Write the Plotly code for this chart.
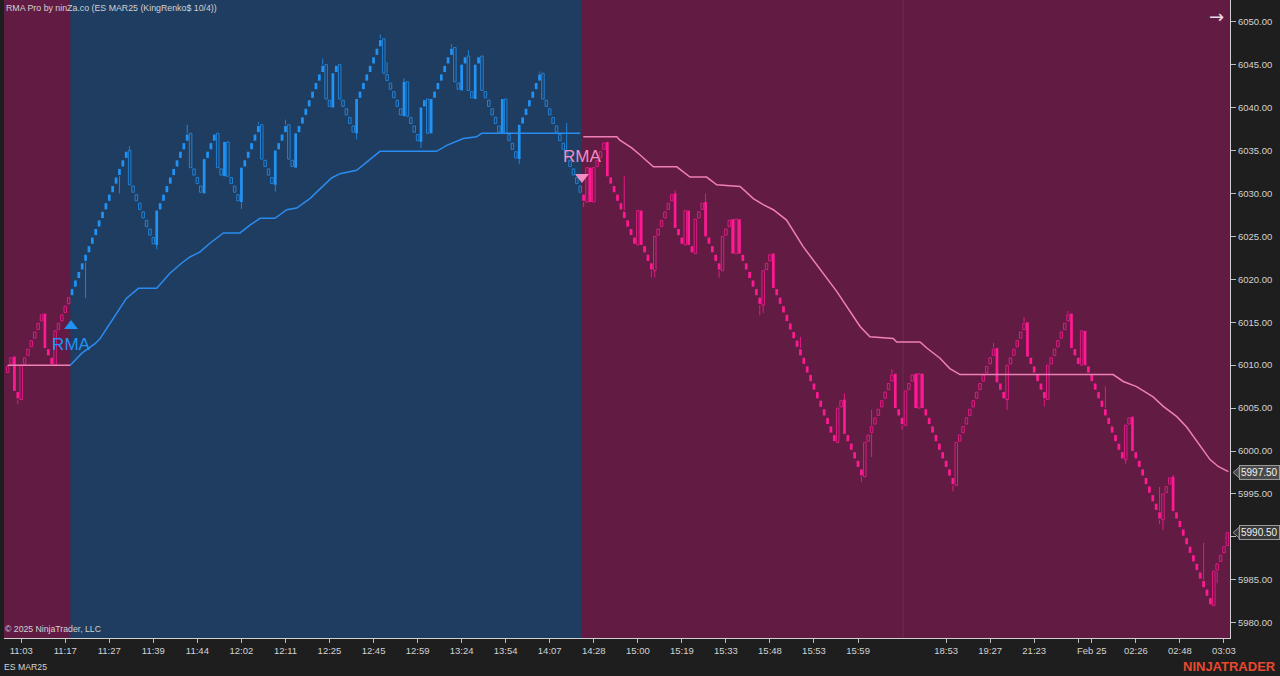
import plotly.graph_objects as go

# ---------------- data ----------------
closes = [
    6010, 6011, 6007, 6006, 6010, 6011, 6012, 6013, 6014, 6015,   # 0
    6016, 6012, 6011, 6010, 6014, 6015, 6016, 6017, 6018, 6019,   # 10
    6020, 6021, 6022, 6023, 6024, 6025, 6026, 6027, 6028, 6029,   # 20
    6030, 6031, 6032, 6033, 6034, 6035, 6031, 6030, 6029, 6028,   # 30
    6027, 6026, 6025, 6024, 6028, 6029, 6030, 6031, 6032, 6033,   # 40
    6034, 6035, 6036, 6037, 6033, 6032, 6031, 6030, 6034, 6035,   # 50
    6036, 6037, 6033, 6032, 6036, 6032, 6031, 6030, 6029, 6033,   # 60
    6034, 6035, 6036, 6037, 6038, 6034, 6033, 6032, 6031, 6035,   # 70
    6036, 6037, 6038, 6034, 6033, 6037, 6038, 6039, 6040, 6041,   # 80
    6042, 6043, 6044, 6045, 6041, 6040, 6044, 6045, 6041, 6040,   # 90
    6039, 6038, 6037, 6041, 6042, 6043, 6044, 6045, 6046, 6047,   # 100
    6048, 6044, 6043, 6042, 6041, 6040, 6039, 6043, 6039, 6038,   # 110
    6037, 6036, 6040, 6041, 6037, 6041, 6042, 6043, 6044, 6045,   # 120
    6046, 6047, 6043, 6042, 6045, 6046, 6042, 6041, 6045, 6046,   # 130
    6042, 6041, 6040, 6039, 6038, 6037, 6041, 6037, 6036, 6035,   # 140
    6034, 6038, 6039, 6040, 6041, 6042, 6043, 6044, 6041, 6040,   # 150
    6039, 6038, 6037, 6036, 6035, 6034, 6033, 6032, 6031, 6030,   # 160
    6029, 6033, 6029, 6033, 6034, 6035, 6036, 6032, 6031, 6030,   # 170
    6029, 6028, 6027, 6026, 6025, 6024, 6028, 6024, 6023, 6022,   # 180
    6021, 6025, 6026, 6027, 6028, 6029, 6030, 6026, 6025, 6024,   # 190
    6028, 6024, 6023, 6027, 6028, 6029, 6025, 6024, 6023, 6022,   # 200
    6021, 6025, 6026, 6027, 6023, 6027, 6023, 6022, 6021, 6020,   # 210
    6019, 6018, 6017, 6021, 6022, 6023, 6019, 6018, 6017, 6016,   # 220
    6015, 6014, 6013, 6012, 6011, 6010, 6009, 6008, 6007, 6006,   # 230
    6005, 6004, 6003, 6002, 6001, 6005, 6006, 6002, 6001, 6000,   # 240
    5999, 5998, 5997, 6001, 6002, 6003, 6004, 6005, 6006, 6007,   # 250
    6008, 6009, 6005, 6004, 6003, 6007, 6008, 6009, 6005, 6009,   # 260
    6005, 6004, 6003, 6002, 6001, 6000, 5999, 5998, 5997, 5996,   # 270
    6001, 6002, 6003, 6004, 6005, 6006, 6007, 6008, 6009, 6010,   # 280
    6011, 6012, 6008, 6007, 6006, 6010, 6011, 6012, 6013, 6014,   # 290
    6015, 6011, 6010, 6009, 6008, 6007, 6006, 6010, 6011, 6012,   # 300
    6013, 6014, 6015, 6016, 6012, 6011, 6010, 6014, 6010, 6009,   # 310
    6008, 6007, 6006, 6005, 6004, 6003, 6002, 6001, 6000, 5999,   # 320
    6003, 6004, 6000, 5999, 5998, 5997, 5996, 5995, 5994, 5993,   # 330
    5992, 5995, 5996, 5997, 5993, 5992, 5991, 5990, 5989, 5988,   # 340
    5987, 5986, 5985, 5984, 5983, 5982, 5986, 5987, 5988, 5989,   # 350
    5990.5,                                                       # 360
]
first_open = 6009
opens = [first_open] + closes[:-1]          # renko: each brick opens at prior close

wick_bars = [3, 23, 33, 36, 44, 53, 69, 74, 79, 82, 93, 103, 110, 112, 117, 122,
             131, 136, 151, 157, 161, 165, 170, 182, 190, 191, 197, 206, 210, 222,
             223, 234, 247, 252, 255, 261, 264, 279, 291, 295, 300, 306, 313, 324,
             330, 340, 341, 344, 353, 355, 357]
wick_lows = [6005.5, 6017.8, 6030.0, None, 6023.5, None, 6028.2, None, 6030.2, None,
             None, 6036.3, None, None, None, 6035.3, None, None, 6033.4, None,
             None, None, 6028.4, None, 6020.2, 6020.2, None, None, 6020.2, 6015.8,
             6016.1, None, None, 5996.4, 5999.3, None, 6002.5, 5995.3, None, 6004.8,
             None, 6005.2, None, None, 5998.5, 5991.5, 5990.8, None, None, 5982.3,
             5984.6]
wick_highs = [None, None, None, 6035.5, None, 6038.0, None, 6038.3, None, 6038.6,
              6045.7, None, 6048.5, 6045.3, 6043.4, None, 6047.4, 6046.7, None, 6044.2,
              6038.9, 6038.2, None, 6032.0, None, None, 6030.4, 6030.0, None, None,
              None, 6013.3, 6006.7, None, 6004.8, 6009.5, None, None, 6012.6, None,
              6015.6, None, 6016.3, 6007.5, None, 5995.8, None, 5997.2, 5989.3, None,
              None]

# trend regime boundaries (bar positions where the RMA flips)
trend_bounds = [18.5, 169.5]

rma_bars = [0, 18.5, 21.9, 25.8, 27.3, 35.1, 38.6, 44.0, 47.9, 51.4,
            53.8, 56.8, 59.7, 63.7, 68.6, 71.5, 74.5, 78.9, 82.4, 85.3,
            89.2, 95.6, 98.1, 103.0, 105.5, 109.9, 126.6, 129.6, 134.5, 138.4,
            139.9, 169.0, 169.9, 179.8, 180.7, 184.2, 186.6, 189.6, 190.6, 197.5,
            199.4, 201.4, 206.3, 209.3, 216.2, 220.1, 223.0, 226.0, 229.9, 234.8,
            244.7, 248.6, 251.6, 254.5, 261.4, 262.4, 269.3, 271.3, 275.2, 278.1,
            281.1, 326.3, 329.3, 333.2, 338.1, 341.1, 345.1, 348.0, 354.9, 357.3,
            360.3]
rma_vals = [6010.0, 6010.0, 6011.4, 6012.5, 6013.1, 6017.8, 6018.95, 6018.95, 6020.7, 6021.9,
            6022.6, 6023.2, 6024.2, 6025.4, 6025.4, 6026.3, 6027.1, 6027.1, 6028.1, 6028.3,
            6029.4, 6031.8, 6032.3, 6032.7, 6033.5, 6034.9, 6034.9, 6035.6, 6036.4, 6036.6,
            6037.0, 6037.0, 6036.6, 6036.6, 6036.2, 6035.3, 6034.5, 6033.5, 6033.1, 6033.1,
            6032.5, 6031.9, 6031.9, 6031.0, 6030.8, 6029.4, 6028.7, 6028.1, 6026.9, 6023.8,
            6018.6, 6016.2, 6014.5, 6013.3, 6013.1, 6012.7, 6012.7, 6012.0, 6010.8, 6009.6,
            6008.9, 6008.9, 6008.1, 6007.5, 6006.3, 6005.2, 6004.0, 6002.8, 5999.0, 5998.2,
            5997.6]
rma_last_label = 5997.50

signal_bars = [18.7, 169.5]
signal_marker_prices = [6014.56, 6031.9]
signal_text_prices = [6012.23, 6034.1]

tick_bars = [4, 17, 30, 43, 56, 69, 82, 95, 108, 121, 134, 147, 160, 173, 186, 199,
             212, 225, 238, 251, 277, 290, 303, 316, 320, 333, 346, 359]
tick_labels = ["11:03", "11:17", "11:27", "11:39", "11:44", "12:02", "12:11", "12:25",
               "12:45", "12:59", "13:24", "13:54", "14:07", "14:28", "15:00", "15:19",
               "15:33", "15:48", "15:53", "15:59", "18:53", "19:27", "21:23", "",
               "Feb 25", "02:26", "02:48", "03:03"]
session_break_bar = 264.3
price_ticks = [5980, 5985, 5990, 5995, 6000, 6005, 6010, 6015, 6020, 6025,
               6030, 6035, 6040, 6045, 6050]

# ---------------- styling ----------------
PAPER = "#1e1e1e"
BG_PINK = "#621c43"
BG_BLUE = "#1f3d61"
BLUE = "#2193f5"
PINK = "#ff1a94"
RMA_BLUE = "#2a8cf0"
RMA_PINK = "#f07fb6"
SIG_PINK = "#f28cc2"
TXT = "#d2d2d2"
FONT = "Liberation Sans, Arial, sans-serif"
BRICK_INSET = 0.14      # visual gap between consecutive single bricks

X_RANGE = [-1.077, 360.79]
Y_RANGE = [5978.22, 6052.53]

fig = go.Figure()

def in_blue(b):
    return trend_bounds[0] < b < trend_bounds[1]

groups = {("blue", True): [], ("blue", False): [], ("pink", True): [], ("pink", False): []}
for i, (o, c) in enumerate(zip(opens, closes)):
    reg = "blue" if in_blue(i) else "pink"
    up = c > o
    filled = up if reg == "blue" else (not up)
    lo, h = min(o, c), abs(c - o)
    if h <= 1.0:
        lo, h = lo + BRICK_INSET, h - 2 * BRICK_INSET
    groups[(reg, filled)].append((i, lo, h))

for (reg, filled), items in groups.items():
    if not items:
        continue
    col = BLUE if reg == "blue" else PINK
    xs = [t[0] for t in items]
    bases = [t[1] for t in items]
    hs = [t[2] for t in items]
    if filled:
        fig.add_trace(go.Bar(x=xs, y=hs, base=bases, width=0.8,
                             marker=dict(color=col, line=dict(width=0)),
                             hoverinfo="skip", showlegend=False))
    else:
        fig.add_trace(go.Bar(x=xs, y=hs, base=bases, width=0.74,
                             marker=dict(color="rgba(0,0,0,0)",
                                         line=dict(color=col, width=1)),
                             opacity=0.8, hoverinfo="skip", showlegend=False))

# wicks
wx = {"blue": [], "pink": []}
wy = {"blue": [], "pink": []}
for b, lo, hi in zip(wick_bars, wick_lows, wick_highs):
    reg = "blue" if in_blue(b) else "pink"
    blo = min(opens[b], closes[b])
    bhi = max(opens[b], closes[b])
    if lo is not None and lo < blo:
        wx[reg] += [b, b, None]
        wy[reg] += [lo, blo, None]
    if hi is not None and hi > bhi:
        wx[reg] += [b, b, None]
        wy[reg] += [bhi, hi, None]
for reg, col in (("blue", BLUE), ("pink", PINK)):
    fig.add_trace(go.Scatter(x=wx[reg], y=wy[reg], mode="lines",
                             line=dict(color=col, width=1), opacity=0.8,
                             hoverinfo="skip", showlegend=False))

# RMA line by regime
seg_defs = [
    (lambda b: b <= trend_bounds[0], RMA_PINK),
    (lambda b: trend_bounds[0] <= b <= trend_bounds[1], RMA_BLUE),
    (lambda b: b >= trend_bounds[1], RMA_PINK),
]
for cond, col in seg_defs:
    xs = [b for b in rma_bars if cond(b)]
    ys = [v for b, v in zip(rma_bars, rma_vals) if cond(b)]
    fig.add_trace(go.Scatter(x=xs, y=ys, mode="lines",
                             line=dict(color=col, width=1.5),
                             hoverinfo="skip", showlegend=False))

# signal markers
fig.add_trace(go.Scatter(x=[signal_bars[0]], y=[signal_marker_prices[0]], mode="markers",
                         marker=dict(symbol="triangle-up", size=12, color=BLUE),
                         hoverinfo="skip", showlegend=False))
fig.add_trace(go.Scatter(x=[signal_bars[1]], y=[signal_marker_prices[1]], mode="markers",
                         marker=dict(symbol="triangle-down", size=12, color=SIG_PINK),
                         hoverinfo="skip", showlegend=False))
fig.add_trace(go.Scatter(x=[signal_bars[0]], y=[signal_text_prices[0]], mode="text",
                         text=["RMA"], textfont=dict(family=FONT, size=17, color=BLUE),
                         hoverinfo="skip", showlegend=False))
fig.add_trace(go.Scatter(x=[signal_bars[1]], y=[signal_text_prices[1]], mode="text",
                         text=["RMA"], textfont=dict(family=FONT, size=17, color=SIG_PINK),
                         hoverinfo="skip", showlegend=False))

# backgrounds
shapes = [
    dict(type="rect", xref="x", yref="paper", x0=X_RANGE[0], x1=trend_bounds[0], y0=0, y1=1,
         fillcolor=BG_PINK, line=dict(width=0), layer="below"),
    dict(type="rect", xref="x", yref="paper", x0=trend_bounds[0], x1=trend_bounds[1], y0=0, y1=1,
         fillcolor=BG_BLUE, line=dict(width=0), layer="below"),
    dict(type="rect", xref="x", yref="paper", x0=trend_bounds[1], x1=X_RANGE[1], y0=0, y1=1,
         fillcolor=BG_PINK, line=dict(width=0), layer="below"),
    dict(type="line", xref="x", yref="paper", x0=session_break_bar, x1=session_break_bar,
         y0=0, y1=1, line=dict(color="rgba(255,255,255,0.07)", width=1), layer="below"),
]

# price tags on right axis
for val, bg in ((rma_last_label, "#4a4a4a"), (closes[-1], "#383838")):
    shapes.append(dict(type="path", xref="paper", yref="y",
                       path=f"M 1.0025,{val} L 1.0075,{val + 0.62} L 1.0075,{val - 0.62} Z",
                       fillcolor=bg, line=dict(color="#9a9a9a", width=1)))

annotations = []
for val, bg in ((rma_last_label, "#4a4a4a"), (closes[-1], "#383838")):
    annotations.append(dict(xref="paper", yref="y", x=1.0073, y=val, xanchor="left",
                            yanchor="middle", text=f"{val:.2f}", showarrow=False,
                            font=dict(family=FONT, size=10, color="#f0f0f0"),
                            bgcolor=bg, bordercolor="#9a9a9a", borderwidth=1, borderpad=1))

annotations += [
    dict(xref="paper", yref="paper", x=0.0, y=1.0, xanchor="left", yanchor="top",
         yshift=-1, text="RMA Pro by ninZa.co (ES MAR25 (KingRenko$ 10/4))", showarrow=False,
         font=dict(family=FONT, size=8.8, color=TXT)),
    dict(xref="paper", yref="paper", x=-0.001, y=0.0141, xanchor="left", yanchor="middle",
         text="© 2025 NinjaTrader, LLC", showarrow=False,
         font=dict(family=FONT, size=8.7, color=TXT)),
    dict(xref="paper", yref="paper", x=-0.0015, y=-0.0455, xanchor="left", yanchor="middle",
         text="ES MAR25", showarrow=False, font=dict(family=FONT, size=8.7, color=TXT)),
    dict(xref="paper", yref="paper", x=1.0392, y=-0.0445, xanchor="right", yanchor="middle",
         text="<b>NINJATRADER</b>", showarrow=False,
         font=dict(family=FONT, size=13, color="#e8492e")),
    dict(xref="paper", yref="paper", x=0.9886, y=0.9734, xanchor="center", yanchor="middle",
         text="→", showarrow=False, font=dict(family="DejaVu Sans", size=18, color="#eadbe3")),
]

fig.update_layout(
    width=1280, height=676,
    margin=dict(l=4, r=50, t=0, b=38),
    paper_bgcolor=PAPER, plot_bgcolor=BG_PINK,
    barmode="overlay", showlegend=False, hovermode=False,
    shapes=shapes, annotations=annotations,
    font=dict(family=FONT, color=TXT),
    xaxis=dict(range=X_RANGE, tickmode="array", tickvals=tick_bars, ticktext=tick_labels,
               showgrid=False, zeroline=False, showline=True, linecolor="#d0d0d0",
               linewidth=1, ticks="outside", ticklen=4, tickcolor="#bdbdbd",
               tickfont=dict(family=FONT, size=9.5, color=TXT), fixedrange=True),
    yaxis=dict(range=Y_RANGE, side="right", tickmode="array", tickvals=price_ticks,
               ticktext=[f"{v:.2f}" for v in price_ticks],
               showgrid=False, zeroline=False, showline=True, linecolor="#d0d0d0",
               linewidth=1, ticks="outside", ticklen=5, tickcolor="#bdbdbd",
               tickfont=dict(family=FONT, size=9.5, color=TXT), fixedrange=True),
)

fig.write_html("out.html")
